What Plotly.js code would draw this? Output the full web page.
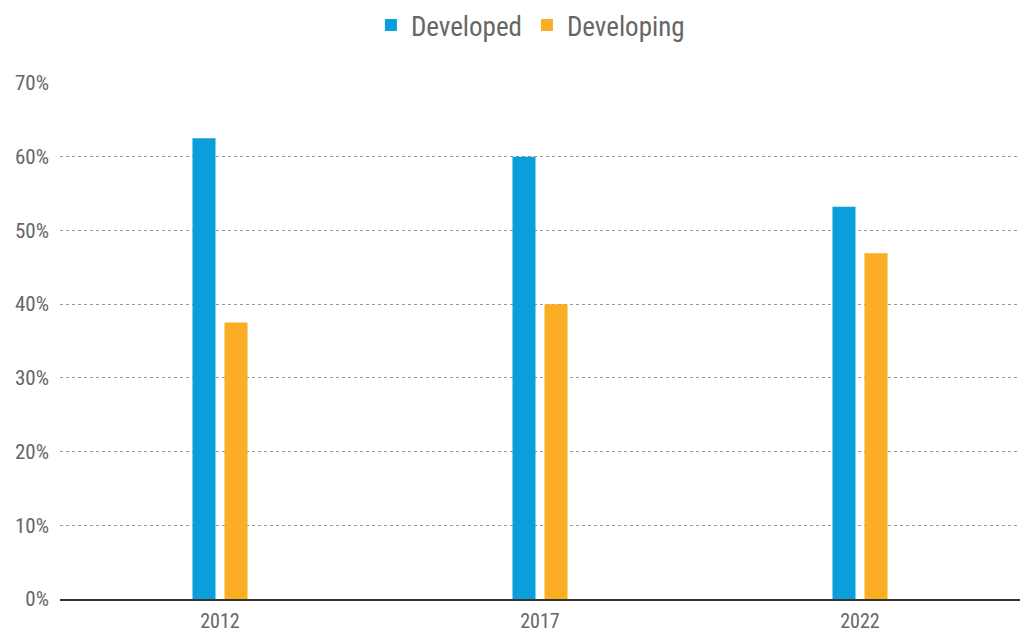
<!DOCTYPE html>
<html><head><meta charset="utf-8">
<script src="https://cdn.plot.ly/plotly-3.0.1.min.js"></script>
<style>html,body{margin:0;padding:0;background:#fff}#c{width:1022px;height:636px}</style>
</head><body><div id="c"></div>
<script>
const years = ['2012', '2017', '2022'];
const developed = [62.5, 60.0, 53.2];
const developing = [37.5, 40.0, 46.9];
const yTicks = [0, 10, 20, 30, 40, 50, 60, 70];
const yTickLabels = ['0%', '10%', '20%', '30%', '40%', '50%', '60%', '70%'];

const font = 'Roboto Condensed, Liberation Sans Narrow, Arial Narrow, sans-serif';
const traces = [
  {type: 'bar', name: 'Developed', x: years, y: developed, marker: {color: '#0a9edb'}},
  {type: 'bar', name: 'Developing', x: years, y: developing, marker: {color: '#fbad23'}}
];
const layout = {
  width: 1022, height: 636,
  margin: {l: 60, r: 2, t: 83, b: 37, autoexpand: false},
  paper_bgcolor: '#fff', plot_bgcolor: '#fff',
  barmode: 'group', bargap: 0.8, bargroupgap: 0.28,
  font: {family: font, color: '#666', size: 21},
  showlegend: true,
  legend: {orientation: 'h', x: 0.49, xanchor: 'center', yref: 'container', y: 0.96, yanchor: 'middle',
           font: {size: 27, color: '#666', family: font}, itemwidth: 30, tracegroupgap: 0},
  xaxis: {type: 'category', showgrid: false, showline: true, linecolor: '#333', linewidth: 2,
          ticks: '', ticklabelstandoff: 3, tickfont: {size: 20, color: '#666'}, zeroline: false},
  yaxis: {range: [0, 70], tickvals: yTicks, ticktext: yTickLabels, showgrid: true,
          gridcolor: '#999', griddash: 'dot', gridwidth: 1, zeroline: false, showline: false,
          ticks: '', ticklabelstandoff: 10, tickfont: {size: 21, color: '#666'}}
};
Plotly.newPlot('c', traces, layout, {displayModeBar: false, staticPlot: true});
</script></body></html>
